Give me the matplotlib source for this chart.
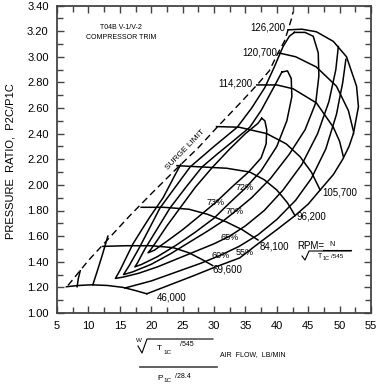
import matplotlib
matplotlib.use("Agg")
import matplotlib.pyplot as plt
from matplotlib.lines import Line2D

FONT = ['Liberation Sans', 'DejaVu Sans']
plt.rcParams['font.family'] = FONT

W, H = 378, 386

# ---------------- data ----------------
surge_x = [6.75, 10.0, 12.96, 16.6, 20.0, 24.1, 27.5, 30.5, 34.0, 36.85, 38.8, 40.2, 41.2, 41.8, 42.3, 42.6]
surge_y = [1.215, 1.41, 1.567, 1.76, 1.93, 2.13, 2.29, 2.45, 2.63, 2.78, 2.89, 3.03, 3.12, 3.21, 3.29, 3.35]

speed_labels = ["46,000", "69,600", "84,100", "96,200", "105,700", "114,200", "120,700", "126,200"]
speed_x = [
    [6.5, 8.5, 10.5, 13.0, 15.5, 17.5, 19.3],
    [12.3, 16.0, 20.0, 23.5, 26.0, 28.0, 29.8],
    [18.4, 22.0, 26.0, 29.0, 32.0, 34.5, 37.0],
    [24.1, 28.0, 32.0, 35.7, 38.0, 40.0, 41.7, 42.9],
    [30.4, 34.0, 38.4, 41.5, 43.7, 45.5, 46.9],
    [36.8, 40.0, 42.6, 46.3, 49.0, 50.0, 50.6],
    [40.3, 43.0, 46.3, 49.5, 51.4, 52.2],
    [41.8, 44.0, 46.3, 49.0, 51.1, 52.7, 53.0, 52.2],
]
speed_y = [
    [1.205, 1.215, 1.22, 1.215, 1.20, 1.175, 1.15],
    [1.52, 1.525, 1.525, 1.51, 1.47, 1.42, 1.37],
    [1.825, 1.825, 1.81, 1.77, 1.71, 1.65, 1.57],
    [2.15, 2.14, 2.13, 2.10, 2.04, 1.96, 1.86, 1.76],
    [2.455, 2.45, 2.40, 2.32, 2.22, 2.10, 1.96],
    [2.78, 2.78, 2.75, 2.64, 2.45, 2.34, 2.22],
    [3.03, 3.00, 2.92, 2.77, 2.58, 2.42],
    [3.21, 3.215, 3.195, 3.12, 3.00, 2.77, 2.61, 2.40],
]
speed_lab_x = [20.9, 29.8, 37.3, 43.2, 47.2, 36.2, 40.0, 41.3]
speed_lab_y = [1.12, 1.34, 1.52, 1.75, 1.94, 2.79, 3.03, 3.225]
speed_lab_ha = ['left', 'left', 'left', 'left', 'left', 'right', 'right', 'right']

eff_labels = ["73%", "72%", "70%", "65%", "60%", "55%"]
eff_lab_x = [30.2, 34.9, 33.3, 32.5, 31.0, 34.9]
eff_lab_y = [1.86, 1.98, 1.79, 1.59, 1.45, 1.47]

eff_x = {
    "73": [37.6, 37.0, 35.0, 32.5, 29.8, 27.0, 24.6, 22.5, 21.0, 20.0, 19.5, 20.5, 22.5, 25.0, 27.5, 30.2, 33.0, 35.5, 37.5, 38.3, 38.4, 38.1, 37.6],
    "72": [40.8, 39.5, 37.5, 35.7, 33.0, 30.5, 28.1, 25.5, 23.0, 21.0, 19.0, 17.8, 17.4, 18.5, 21.0, 24.0, 27.0, 30.0, 32.5, 34.9, 37.5, 40.0, 41.6, 42.4, 42.3, 41.7, 40.8],
    "70": [42.8, 42.0, 41.0, 39.6, 38.1, 36.0, 33.7, 30.0, 26.2, 23.8, 21.4, 19.5, 18.0, 16.5, 15.6, 17.0, 20.0, 23.0, 26.0, 29.0, 31.5, 33.3, 36.0, 39.0, 42.0, 44.5, 46.2, 46.7, 46.6, 45.8, 44.5, 42.8],
    "65": [24.7, 23.5, 21.9, 19.8, 18.5, 17.1, 16.0, 15.0, 14.3, 15.5, 18.0, 21.0, 24.0, 27.0, 30.0, 32.5, 35.0, 38.0, 41.0, 44.0, 46.5, 48.3, 49.4, 49.8],
    "60": [13.1, 12.2, 11.3, 10.7],
    "60b": [15.8, 20.0, 24.0, 28.0, 31.0, 34.0, 37.0, 40.0, 43.0, 45.5, 47.8, 49.5, 50.5, 51.0],
    "55": [8.7, 8.4, 8.2],
    "55b": [19.3, 23.0, 26.7, 30.0, 34.1, 37.0, 40.0, 42.9, 45.0, 46.9, 49.0, 50.5, 51.5, 52.2],
}
eff_y = {
    "73": [2.52, 2.48, 2.40, 2.28, 2.14, 1.98, 1.82, 1.68, 1.57, 1.50, 1.47, 1.49, 1.56, 1.65, 1.75, 1.86, 1.99, 2.10, 2.21, 2.32, 2.43, 2.50, 2.52],
    "72": [2.88, 2.76, 2.58, 2.45, 2.34, 2.24, 2.14, 1.98, 1.82, 1.66, 1.50, 1.39, 1.36, 1.38, 1.44, 1.53, 1.63, 1.74, 1.86, 1.97, 2.11, 2.30, 2.50, 2.69, 2.83, 2.89, 2.88],
    "70": [3.19, 3.16, 3.08, 2.92, 2.76, 2.60, 2.45, 2.30, 2.14, 1.98, 1.82, 1.64, 1.50, 1.37, 1.30, 1.32, 1.38, 1.46, 1.55, 1.64, 1.72, 1.79, 1.90, 2.05, 2.24, 2.43, 2.64, 2.85, 3.03, 3.16, 3.19, 3.19],
    "65": [2.16, 2.05, 1.90, 1.75, 1.65, 1.54, 1.43, 1.33, 1.27, 1.28, 1.31, 1.36, 1.42, 1.48, 1.54, 1.60, 1.68, 1.80, 1.96, 2.16, 2.40, 2.65, 2.90, 3.08],
    "60": [1.60, 1.45, 1.31, 1.22],
    "60b": [1.195, 1.25, 1.32, 1.39, 1.45, 1.52, 1.61, 1.73, 1.88, 2.05, 2.28, 2.55, 2.80, 2.98],
    "55": [1.33, 1.27, 1.205],
    "55b": [1.15, 1.22, 1.29, 1.355, 1.43, 1.54, 1.65, 1.76, 1.85, 1.96, 2.08, 2.20, 2.30, 2.40],
}

x_ticks = [5, 10, 15, 20, 25, 30, 35, 40, 45, 50, 55]
y_ticks = [1.00, 1.20, 1.40, 1.60, 1.80, 2.00, 2.20, 2.40, 2.60, 2.80, 3.00, 3.20, 3.40]

# ---------------- figure ----------------
fig = plt.figure(figsize=(W / 100, H / 100), dpi=100)
fig.patch.set_facecolor('white')
L, R, T, B = 57, 371, 5.5, 313
ax = fig.add_axes([L / W, 1 - B / H, (R - L) / W, (B - T) / H])
ax.set_xlim(5, 55)
ax.set_ylim(1.0, 3.4)

lw = 1.1
ax.plot(surge_x, surge_y, color='black', lw=1.0, dashes=(5, 3))
for xs, ys in zip(speed_x, speed_y):
    ax.plot(xs, ys, color='black', lw=lw)
for k in eff_x:
    ax.plot(eff_x[k], eff_y[k], color='black', lw=lw)

for t, x, y, ha in zip(speed_labels, speed_lab_x, speed_lab_y, speed_lab_ha):
    ax.text(x, y, t, fontsize=7, ha=ha, va='center')
for t, x, y in zip(eff_labels, eff_lab_x, eff_lab_y):
    ax.text(x, y, t, fontsize=6.5, ha='center', va='center')

NARROW = ['Liberation Sans Narrow', 'DejaVu Sans Condensed', 'Liberation Sans', 'DejaVu Sans']
ax.text(25.5, 2.27, "SURGE LIMIT", fontsize=6, rotation=46, ha='center', va='center', family=NARROW)
ax.text(15.2, 3.23, "T04B V-1/V-2", fontsize=5, ha='center', va='center', family=NARROW)
ax.text(15.2, 3.15, "COMPRESSOR TRIM", fontsize=5, ha='center', va='center', family=NARROW)

# RPM = N / sqrt(T1C/545)
ax.text(43.2, 1.52, "RPM=", fontsize=7, ha='left', va='center')
ax.text(48.8, 1.535, "N", fontsize=5, ha='center', va='center')

def fx(px):
    return px / W

def fy(py):
    return 1 - py / H

for seg in ([(323, 250), (351, 250)], [(302, 256), (305, 260), (309, 251), (351, 251)]):
    xs = [fx(p[0]) for p in seg]
    ys = [fy(p[1]) for p in seg]
    fig.add_artist(Line2D(xs, ys, color='black', lw=0.8))
fig.text(fx(318), fy(257), r"T", fontsize=5, ha='left', va='center')
fig.text(fx(322.5), fy(259), r"1C", fontsize=4, ha='left', va='center')
fig.text(fx(331), fy(256), r"/545", fontsize=4.5, ha='left', va='center')

# axes styling
ax.set_xticks(x_ticks)
ax.set_xticks([v + 2.5 for v in x_ticks[:-1]], minor=True)
ax.set_yticks(y_ticks)
ax.set_yticks([v + 0.1 for v in y_ticks[:-1]], minor=True)
ax.set_xticklabels([str(v) for v in x_ticks])
ax.set_yticklabels(["%.2f" % v for v in y_ticks])
ax.tick_params(which='both', direction='in', top=True, right=True, width=1.0, color='#444444')
ax.tick_params(which='major', length=5, labelsize=8, pad=6)
ax.tick_params(which='minor', length=4)
for s in ax.spines.values():
    s.set_linewidth(1.3)
    s.set_color('#444444')

# y label
fig.text(fx(11), fy(161), "PRESSURE  RATIO,  P2C/P1C", rotation=90, fontsize=8, ha='center', va='center')

# x label: W sqrt(T1C/545) / (P1C/28.4)  AIR FLOW, LB/MIN
fig.add_artist(Line2D([fx(138), fx(142), fx(147), fx(213)], [fy(346), fy(353), fy(339), fy(339)], color='black', lw=0.8))
fig.add_artist(Line2D([fx(140), fx(217)], [fy(367), fy(367)], color='#444444', lw=1.2))
fig.text(fx(139), fy(341), "W", fontsize=4.5, ha='center', va='center')
fig.text(fx(157), fy(349), "T", fontsize=6, ha='left', va='center')
fig.text(fx(163), fy(352), "1C", fontsize=4.5, ha='left', va='center')
fig.text(fx(180), fy(344), "/545", fontsize=5, ha='left', va='center')
fig.text(fx(220), fy(355), "AIR  FLOW,  LB/MIN", fontsize=5, ha='left', va='center')
fig.text(fx(157), fy(378), "P", fontsize=6, ha='left', va='center')
fig.text(fx(163), fy(381), "1C", fontsize=4.5, ha='left', va='center')
fig.text(fx(175), fy(376), "/28.4", fontsize=5, ha='left', va='center')

fig.savefig("out.png", dpi=100, facecolor='white')
